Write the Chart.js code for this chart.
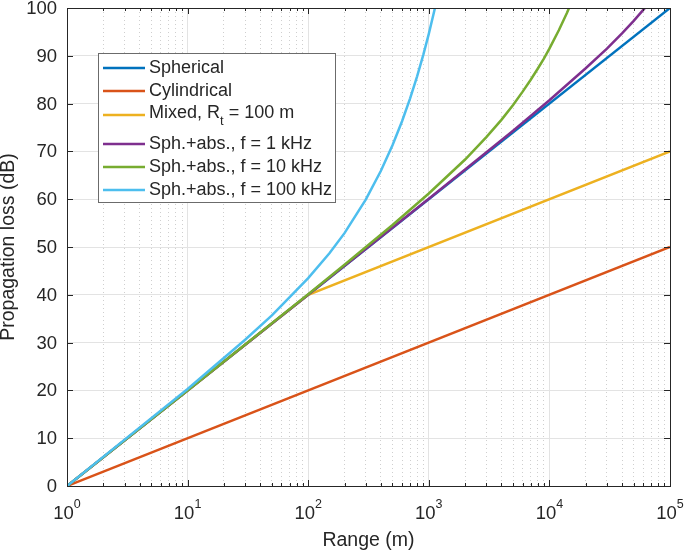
<!DOCTYPE html>
<html>
<head>
<meta charset="utf-8">
<script src="https://cdn.jsdelivr.net/npm/chart.js@4.4.1/dist/chart.umd.min.js"></script>
<style>
  body { margin: 0; background: #fff; }
  canvas { display: block; }
</style>
</head>
<body>
<canvas id="chart" width="685" height="551"></canvas>
<script>
// values (range in m, loss in dB)
const rangeSph = [1, 100000]
const lossSph = [0, 100]
const rangeCyl = [1, 100000]
const lossCyl = [0, 50]
const rangeMixed = [1, 100, 100000]
const lossMixed = [0, 40, 70]
const range1k = [1, 10, 100, 1000, 2000, 5000, 10000, 20000, 30000, 40000, 50000, 60000, 62100]
const loss1k = [0, 20, 40, 60.1, 66.2, 74.3, 80.7, 87.4, 91.5, 94.7, 97.3, 99.6, 100]
const range10k = [1, 10, 100, 200, 500, 1000, 2000, 3000, 4000, 5000, 6000, 7000, 8000, 9000, 10000, 12000, 14000, 14550]
const loss10k = [0, 20, 40.1, 46.3, 54.6, 61.2, 68.3, 73.0, 76.6, 79.7, 82.5, 85.0, 87.3, 89.4, 91.5, 95.4, 99.0, 100]
const range100k = [1, 10, 30, 50, 100, 150, 200, 300, 400, 500, 600, 700, 800, 900, 1000, 1125]
const loss100k = [0, 20.3, 30.6, 35.7, 43.5, 48.7, 52.9, 59.9, 65.9, 71.3, 76.3, 81.1, 85.7, 90.2, 94.6, 100]

const seriesLabels = ['Spherical', 'Cylindrical', 'Mixed, R_t = 100 m',
    'Sph.+abs., f = 1 kHz', 'Sph.+abs., f = 10 kHz', 'Sph.+abs., f = 100 kHz']
const seriesColors = ['#0072BD', '#D95319', '#EDB120', '#7E2F8E', '#77AC30', '#4DBEEE']
const yTicks = [0, 10, 20, 30, 40, 50, 60, 70, 80, 90, 100]
const xDecades = [0, 1, 2, 3, 4, 5]

const FONT = '"Liberation Sans", Arial, Helvetica, sans-serif'
const TEXT = '#262626'

const pts = (xs, ys) => xs.map((x, i) => ({ x: x, y: ys[i] }))
const allSeries = [
    pts(rangeSph, lossSph), pts(rangeCyl, lossCyl), pts(rangeMixed, lossMixed),
    pts(range1k, loss1k), pts(range10k, loss10k), pts(range100k, loss100k)
]

const isDecade = v => Math.abs(Math.log10(v) - Math.round(Math.log10(v))) < 1e-9

// box, inward ticks, tick labels, axis titles and legend (MATLAB style)
const decorPlugin = {
    id: 'decor',
    afterDatasetsDraw(chart) {
        const { ctx, chartArea: a, scales } = chart
        const xs = scales.x, ys = scales.y
        ctx.save()
        ctx.strokeStyle = TEXT
        ctx.lineWidth = 1
        ctx.beginPath()
        xs.ticks.forEach(t => {
            const px = Math.round(xs.getPixelForValue(t.value)) + 0.5
            const len = isDecade(t.value) ? 6 : 3
            ctx.moveTo(px, a.bottom); ctx.lineTo(px, a.bottom - len)
            ctx.moveTo(px, a.top); ctx.lineTo(px, a.top + len)
        })
        yTicks.forEach(v => {
            const py = Math.round(ys.getPixelForValue(v)) + 0.5
            ctx.moveTo(a.left, py); ctx.lineTo(a.left + 6, py)
            ctx.moveTo(a.right, py); ctx.lineTo(a.right - 6, py)
        })
        ctx.stroke()
        ctx.strokeRect(Math.round(a.left) + 0.5, Math.round(a.top) + 0.5,
            Math.round(a.right - a.left), Math.round(a.bottom - a.top))

        // y tick labels
        ctx.fillStyle = TEXT
        ctx.font = '18.5px ' + FONT
        ctx.textAlign = 'right'
        ctx.textBaseline = 'middle'
        yTicks.forEach(v => ctx.fillText(String(v), a.left - 10, ys.getPixelForValue(v) + 1))

        // x tick labels 10^n
        ctx.textAlign = 'left'
        ctx.textBaseline = 'alphabetic'
        xDecades.forEach(n => {
            const px = xs.getPixelForValue(Math.pow(10, n))
            ctx.font = '18.5px ' + FONT
            const wb = ctx.measureText('10').width
            ctx.font = '12.5px ' + FONT
            const we = ctx.measureText(String(n)).width
            const x0 = px - (wb + we) / 2
            ctx.font = '18.5px ' + FONT
            ctx.fillText('10', x0, a.bottom + 33)
            ctx.font = '12.5px ' + FONT
            ctx.fillText(String(n), x0 + wb, a.bottom + 22)
        })

        // axis titles
        ctx.font = '19.5px ' + FONT
        ctx.textAlign = 'center'
        ctx.fillText('Range (m)', (a.left + a.right) / 2, 546)
        ctx.save()
        ctx.translate(14, (a.top + a.bottom) / 2)
        ctx.rotate(-Math.PI / 2)
        ctx.fillText('Propagation loss (dB)', 0, 0)
        ctx.restore()

        // legend
        const lx = 98.5, ly = 53.5, lw = 237, lh = 149
        ctx.fillStyle = '#fff'
        ctx.fillRect(lx, ly, lw, lh)
        ctx.strokeStyle = '#6b6b6b'
        ctx.lineWidth = 1
        ctx.strokeRect(lx, ly, lw, lh)
        const rowY = [68, 91, 115, 144, 167, 190]
        ctx.textAlign = 'left'
        ctx.textBaseline = 'middle'
        seriesLabels.forEach((lab, i) => {
            const y = rowY[i]
            ctx.strokeStyle = seriesColors[i]
            ctx.lineWidth = 2.5
            ctx.beginPath()
            ctx.moveTo(103, y); ctx.lineTo(145, y)
            ctx.stroke()
            ctx.fillStyle = TEXT
            const parts = lab.split('_')
            ctx.font = '18px ' + FONT
            if (parts.length === 1) {
                ctx.fillText(lab, 149, y)
            } else {
                let x = 149
                const yt = y - 2
                ctx.fillText(parts[0], x, yt)
                x += ctx.measureText(parts[0]).width
                ctx.font = '13px ' + FONT
                ctx.fillText(parts[1].charAt(0), x, yt + 8)
                x += ctx.measureText(parts[1].charAt(0)).width
                ctx.font = '18px ' + FONT
                ctx.fillText(parts[1].slice(1), x, yt)
            }
        })
        ctx.restore()
    }
}

new Chart(document.getElementById('chart'), {
    type: 'line',
    data: {
        datasets: allSeries.map((d, i) => ({
            label: seriesLabels[i],
            data: d,
            borderColor: seriesColors[i],
            backgroundColor: seriesColors[i],
            borderWidth: 2.5,
            pointRadius: 0,
            tension: 0,
            fill: false,
            order: seriesLabels.length - i
        }))
    },
    options: {
        responsive: false,
        animation: false,
        devicePixelRatio: 1,
        layout: { padding: { left: 67, right: 15, top: 8, bottom: 65 } },
        plugins: { legend: { display: false }, tooltip: { enabled: false } },
        scales: {
            x: {
                type: 'logarithmic',
                min: 1,
                max: 100000,
                afterBuildTicks(scale) {
                    const t = []
                    for (let k = 0; k < 5; k++) {
                        for (let m = 1; m < 10; m++) t.push({ value: m * Math.pow(10, k) })
                    }
                    t.push({ value: 100000 })
                    scale.ticks = t
                },
                ticks: { display: false },
                grid: {
                    drawTicks: false,
                    lineWidth: 1,
                    color: c => isDecade(c.tick.value) ? '#e3e3e3' : '#cfcfcf'
                },
                border: {
                    display: false,
                    dash: c => (c.tick && !isDecade(c.tick.value)) ? [1, 3] : []
                }
            },
            y: {
                min: 0,
                max: 100,
                ticks: { display: false, stepSize: 10 },
                grid: { drawTicks: false, lineWidth: 1, color: '#e3e3e3' },
                border: { display: false }
            }
        }
    },
    plugins: [decorPlugin]
})
</script>
</body>
</html>
